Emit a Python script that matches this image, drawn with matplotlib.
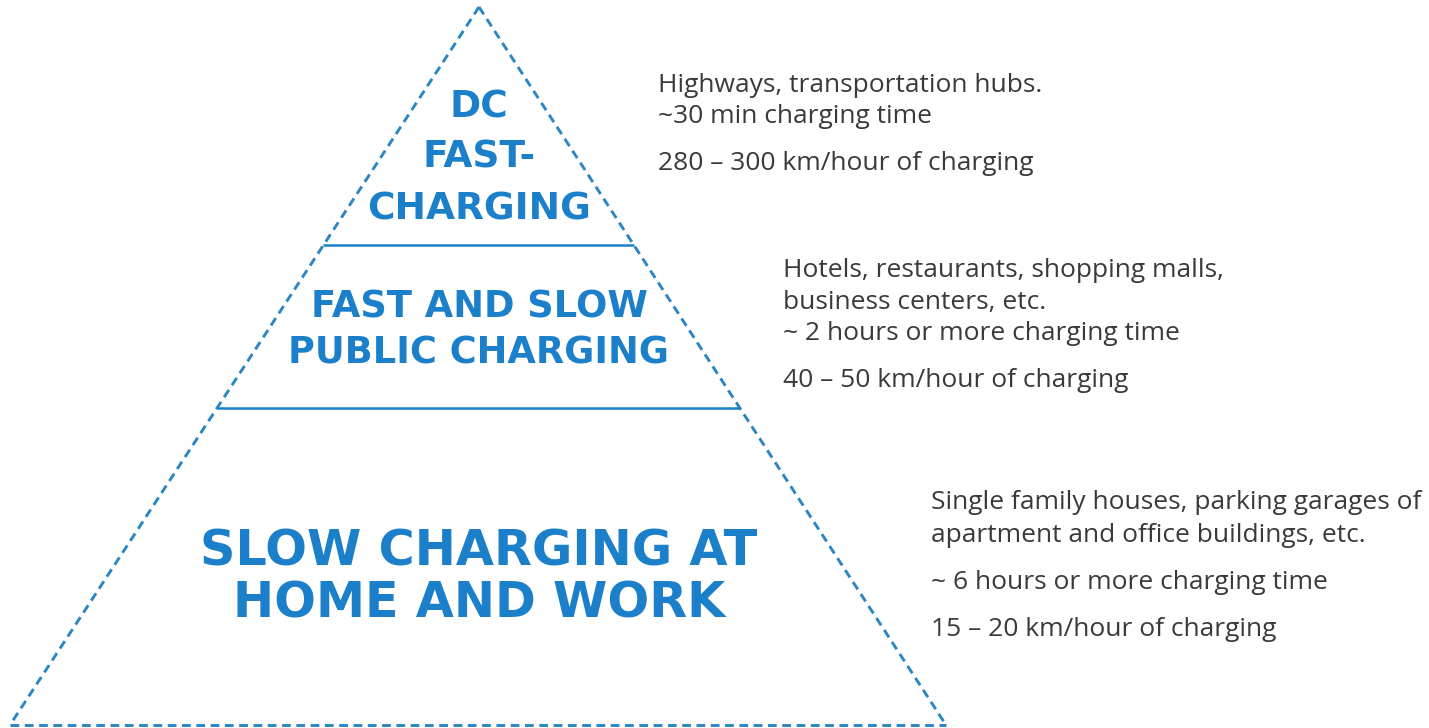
import matplotlib
matplotlib.use("Agg")
import matplotlib.pyplot as plt

# tiers from top to bottom
tier_labels = [
    ["DC", "FAST-", "CHARGING"],
    ["FAST AND SLOW", "PUBLIC CHARGING"],
    ["SLOW CHARGING AT", "HOME AND WORK"],
]
tier_bounds = [0.0, 0.332, 0.559, 1.0]  # fraction of pyramid height
tier_descriptions = [
    ["Highways, transportation hubs.", "~30 min charging time", "280 – 300 km/hour of charging"],
    ["Hotels, restaurants, shopping malls,", "business centers, etc.", "~ 2 hours or more charging time",
     "40 – 50 km/hour of charging"],
    ["Single family houses, parking garages of", "apartment and office buildings, etc.",
     "~ 6 hours or more charging time", "15 – 20 km/hour of charging"],
]

BLUE = "#1b7fc9"
DASH_BLUE = "#2a86c4"
GREY = "#3a3a3a"

W, H = 1429, 728
fig = plt.figure(figsize=(W / 100, H / 100), dpi=100)
ax = fig.add_axes([0, 0, 1, 1])
ax.set_xlim(0, W)
ax.set_ylim(H, 0)
ax.axis("off")

apex = (479, 7)
left = (10, 725)
right = (946, 725)
height = left[1] - apex[1]


def edge_x(frac, side):
    end = left if side == "left" else right
    return apex[0] + (end[0] - apex[0]) * frac


dash = (0, (3.0, 1.9))
for start, end in ((apex, left), (apex, right), (left, right)):
    ax.plot([start[0], end[0]], [start[1], end[1]], color=DASH_BLUE, lw=2.1, linestyle=dash)

for frac in tier_bounds[1:-1]:
    y = apex[1] + frac * height
    ax.plot([edge_x(frac, "left"), edge_x(frac, "right")], [y, y], color=BLUE, lw=1.8,
            solid_capstyle="butt")

# baselines of each label line
label_baselines = [[118, 168, 220], [317, 363], [565, 617]]
label_size = [27, 26.5, 35.5]
for lines, baselines, size in zip(tier_labels, label_baselines, label_size):
    for line, y in zip(lines, baselines):
        ax.text(apex[0], y, line, color=BLUE, fontsize=size, fontweight="bold",
                family="DejaVu Sans", ha="center", va="baseline")

desc_x = [658, 783, 931]
desc_baselines = [
    [92, 123, 170],
    [277, 309, 340, 387],
    [509, 542, 589, 636],
]
for lines, x, ys in zip(tier_descriptions, desc_x, desc_baselines):
    for line, y in zip(lines, ys):
        ax.text(x, y, line, color=GREY, fontsize=19, family="Open Sans",
                ha="left", va="baseline")

fig.savefig("out.png", dpi=100)
